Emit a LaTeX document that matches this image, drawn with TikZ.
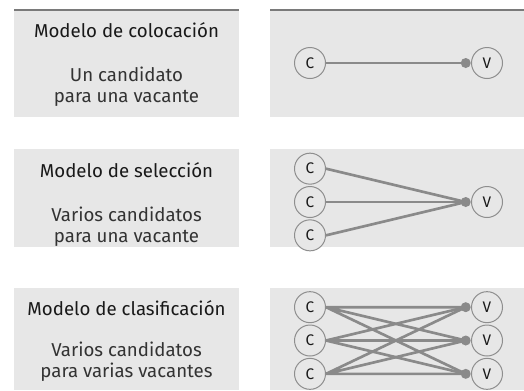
\documentclass[tikz,border=0pt]{standalone}
\usepackage{fontspec}
\setmainfont{Fira Sans}
\usepackage{tikz}
\usetikzlibrary{positioning}
\definecolor{panelgray}{HTML}{E7E7E7}
\definecolor{rulegray}{HTML}{7A7A7A}
\definecolor{linkgray}{HTML}{8A8A8A}
\definecolor{ringgray}{HTML}{8E8E8E}

\begin{document}
\begin{tikzpicture}[x=0.75pt, y=-0.75pt,
  every node/.style={font=\fontsize{14}{15.5}\selectfont, text=black!90},
  panel/.style={fill=panelgray, draw=none},
  toprule/.style={draw=rulegray, line width=1.5pt},
  cnode/.style={circle, draw=ringgray, line width=0.75pt, minimum size=23.25pt, inner sep=0pt, fill=panelgray, font=\fontsize{11.5}{12}\selectfont},
  vnode/.style={cnode},
  joint/.style={circle, fill=linkgray, minimum size=7.5pt, inner sep=0pt},
  link/.style={draw=linkgray, line width=2pt},
  modeltitle/.style={align=center, anchor=base},
  modeltext/.style={align=center, anchor=base, text=black!80}
]
\useasboundingbox (0,0) rectangle (524,390);

%========== ROW 1: colocacion ==========
\fill[panel] (14,10) rectangle (239,117);
\fill[panel] (270,10) rectangle (524,117);
\draw[toprule] (14,10) -- (239,10);
\draw[toprule] (270,10) -- (524,10);

\node[modeltitle] (t1) at (126.5,37) {Modelo de colocación};
\node[modeltext]  (s1) at (126.5,102) {Un candidato\\para una vacante};

\node[cnode] (a1) at (310,63) {C};
\node[vnode] (av1) at (487,63) {V};
\node[joint, left=0pt of av1] (aj1) {};
\draw[link] (a1.east) -- (aj1.center);

%========== ROW 2: seleccion ==========
\fill[panel] (14,149) rectangle (239,247);
\fill[panel] (270,149) rectangle (524,247);

\node[modeltitle] (t2) at (126.5,177) {Modelo de selección};
\node[modeltext]  (s2) at (126.5,242) {Varios candidatos\\para una vacante};

\node[cnode] (b2) at (310,202) {C};
\node[cnode, above=1pt of b2] (b1) {C};
\node[cnode, below=1pt of b2] (b3) {C};
\node[vnode] (bv1) at (487,202) {V};
\node[joint, left=0pt of bv1] (bj1) {};
\draw[link] (b1.east) -- (bj1.center);
\draw[link] (b2.east) -- (bj1.center);
\draw[link] (b3.east) -- (bj1.center);

%========== ROW 3: clasificacion ==========
\fill[panel] (14,288) rectangle (239,390);
\fill[panel] (270,288) rectangle (524,390);

\node[modeltitle] (t3) at (126.5,315) {Modelo de clasificación};
\node[modeltext]  (s3) at (126.5,377) {Varios candidatos\\para varias vacantes};

\node[cnode] (c2) at (310,340.5) {C};
\node[cnode, above=1pt of c2] (c1) {C};
\node[cnode, below=1pt of c2] (c3) {C};
\node[vnode] (cv2) at (487,340.5) {V};
\node[vnode, above=1pt of cv2] (cv1) {V};
\node[vnode, below=1pt of cv2] (cv3) {V};
\node[joint, left=0pt of cv1] (cj1) {};
\node[joint, left=0pt of cv2] (cj2) {};
\node[joint, left=0pt of cv3] (cj3) {};
\draw[link] (c1.east) -- (cj1.center) (c1.east) -- (cj2.center) (c1.east) -- (cj3.center);
\draw[link] (c2.east) -- (cj1.center) (c2.east) -- (cj2.center) (c2.east) -- (cj3.center);
\draw[link] (c3.east) -- (cj1.center) (c3.east) -- (cj2.center) (c3.east) -- (cj3.center);

\end{tikzpicture}
\end{document}
